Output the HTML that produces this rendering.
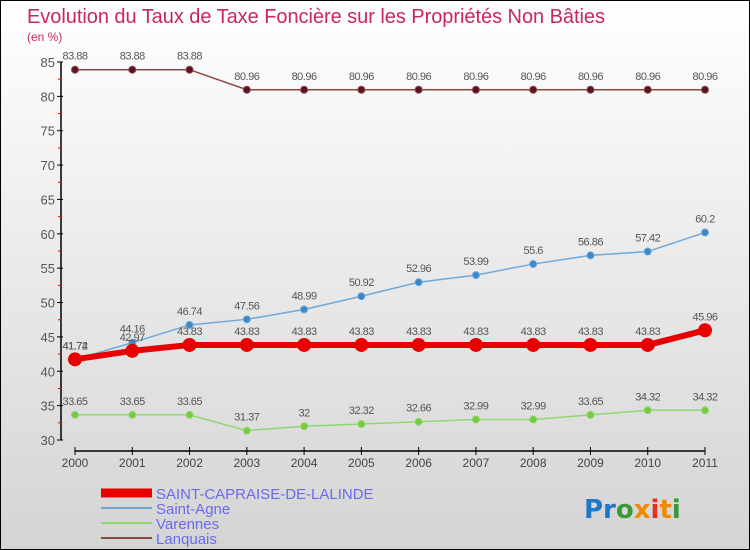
<!DOCTYPE html>
<html><head><meta charset="utf-8"><style>
body{margin:0}
#wrap{position:relative;width:748px;height:548px;border:1px solid #000;background:linear-gradient(#fff,#d4d4d4);font-family:"Liberation Sans",sans-serif;overflow:hidden}
</style></head><body>
<div id="wrap">
<svg id="c" width="748" height="548" style="position:absolute;left:0;top:0">
<text x="26" y="22" font-size="20" fill="#c8285a" textLength="578">Evolution du Taux de Taxe Foncière sur les Propriétés Non Bâties</text>
<text x="26" y="40" font-size="12" fill="#c8285a">(en %)</text>
<text x="583" y="517" font-size="26" font-family="DejaVu Sans" font-weight="bold"><tspan fill="#1e78c8">Pr</tspan><tspan fill="#3a9a3a">o</tspan><tspan fill="#f08a00">x</tspan><tspan fill="#e83020">i</tspan><tspan fill="#f08a00">t</tspan><tspan fill="#3a9a3a">i</tspan></text>
</svg>
</div>
<script>
const years=["2000","2001","2002","2003","2004","2005","2006","2007","2008","2009","2010","2011"];
const yTicks=[30,35,40,45,50,55,60,65,70,75,80,85];
const saintCapraise=[41.74,42.97,43.83,43.83,43.83,43.83,43.83,43.83,43.83,43.83,43.83,45.96];
const saintAgne=[41.72,44.16,46.74,47.56,48.99,50.92,52.96,53.99,55.6,56.86,57.42,60.2];
const varennes=[33.65,33.65,33.65,31.37,32,32.32,32.66,32.99,32.99,33.65,34.32,34.32];
const lanquais=[83.88,83.88,83.88,80.96,80.96,80.96,80.96,80.96,80.96,80.96,80.96,80.96];
const NS="http://www.w3.org/2000/svg",svg=document.getElementById('c');
const X=i=>74+i*(630/11);
const Y=v=>439-(v-30)*(378/55);
function mk(t,a,p){const e=document.createElementNS(NS,t);for(const k in a)e.setAttribute(k,a[k]);(p||svg).appendChild(e);return e;}
let ax=mk('line',{x1:60,y1:Y(85),x2:60,y2:Y(30),stroke:'#000','stroke-width':1.5});


let xa=mk('line',{x1:74,y1:450,x2:704,y2:450,stroke:'#000','stroke-width':1.5});


yTicks.forEach(v=>{
 mk('line',{x1:56,x2:62,y1:Y(v),y2:Y(v),stroke:'#000'});
 if(v<85) mk('line',{x1:57,x2:61,y1:Y(v+2.5),y2:Y(v+2.5),stroke:'#e00'});
 const t=mk('text',{x:54,y:Y(v)+5,'font-size':13,fill:'#555','text-anchor':'end'});
 t.textContent=v;
 
 
});
years.forEach((y,i)=>{
 mk('line',{x1:X(i),x2:X(i),y1:446,y2:454,stroke:'#000'});
 const t=mk('text',{x:X(i),y:466,'font-size':12,fill:'#444','text-anchor':'middle'});
 t.textContent=y;
 
 
});
function series(d,name,color,lw,r,fill){
 const g=mk('g',{});
 
 
 mk('polyline',{points:d.map((v,i)=>X(i)+','+Y(v)).join(' '),fill:'none',stroke:color,'stroke-width':lw},g);
 d.forEach((v,i)=>{
  const c=mk('circle',{cx:X(i),cy:Y(v),r:r,fill:fill,stroke:color},g);
  
  
  const t=mk('text',{x:X(i),y:Y(v)-10,'font-size':11,fill:'#555','text-anchor':'middle','letter-spacing':'-0.5'},g);
  t.textContent=String(v);
  
  
 });
}
series(lanquais,'lanquais','#8a4848',1.5,3.5,'#5a1420');
series(varennes,'varennes','#90d870',1.5,3.5,'#78c840');
series(saintAgne,'saint-agne','#70a8d8',1.5,3.5,'#3a88c8');
series(saintCapraise,'saint-capraise','#e80000',6,6.5,'#e80000');
const leg=[['SAINT-CAPRAISE-DE-LALINDE','#e80000',9],['Saint-Agne','#70a8d8',2],['Varennes','#90d870',2],['Lanquais','#8a4848',2]];
leg.forEach((l,i)=>{
 const y=492+i*15;
 const g=mk('g',{});
 
 
 mk('line',{x1:100,x2:151,y1:y,y2:y,stroke:l[1],'stroke-width':l[2]},g);
 const t=mk('text',{x:155,y:y+6,'font-size':15,fill:'#6a6af0'},g);
 t.textContent=l[0];
});
</script>
</body></html>
